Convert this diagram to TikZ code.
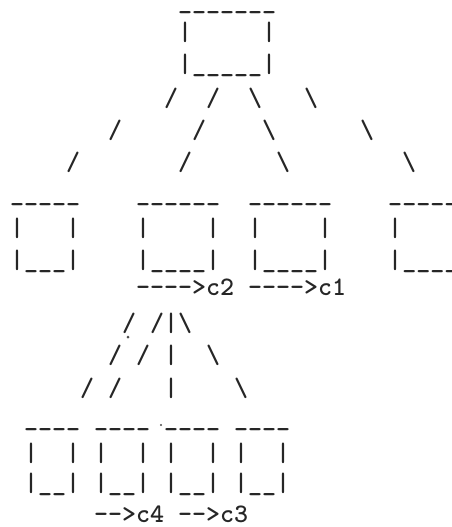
\documentclass[tikz,border=0pt]{standalone}
\newcommand{\artbs}{\textbackslash}
\begin{document}
\begin{tikzpicture}[x=1pt, y=-1pt,
  art/.style={font=\ttfamily\bfseries\fontsize{26.67}{32}\selectfont,
    text=black!85, anchor=base west, inner sep=0pt}]

  \useasboundingbox (0,0) rectangle (452,527);
  \clip (0,0) rectangle (452,527);

  % === ROOT BOX ===
  \node[art] (r0) at (178,10) {\_\_\_\_\_\_\_};
  \node[art] (r1) at (178,41) {|~~~~~|};
  \node[art] (r2) at (178,73) {|\_\_\_\_\_|};

  % Branches
  \node[art] (r3) at (164,106) {/~~/~~\artbs~~~\artbs};
  \node[art] (r4) at (108,138) {/~~~~~/~~~~\artbs~~~~~~\artbs};
  \node[art] (r5) at (66,170)  {/~~~~~~~/~~~~~~\artbs~~~~~~~~\artbs};

  % === SECOND LEVEL ===
  \node[art] (r6) at (10,201)
    {\_\_\_\_\_~~~~\_\_\_\_\_\_~~\_\_\_\_\_\_~~~~\_\_\_\_\_\_};
  \node[art] (r7) at (10,236) {|~~~|~~~~|~~~~|~~|~~~~|~~~~|};
  \node[art] (r8) at (10,268)
    {|\_\_\_|~~~~|\_\_\_\_|~~|\_\_\_\_|~~~~|\_\_\_\_\_};
  \node[art] (r9) at (136,295) {-{}-{}-{}-{}>c2~-{}-{}-{}-{}>c1};

  % Branches
  \node[art] (r10) at (122,331) {/~/|\artbs};
  \node[art] (r11) at (108,363) {/~/~|~~\artbs};
  \node[art] (r12) at (80,396)  {/~/~~~|~~~~\artbs};

  % === THIRD LEVEL ===
  \node[art] (r13) at (24,426) {\_\_\_\_~\_\_\_\_~\_\_\_\_~\_\_\_\_};
  \node[art] (r14) at (24,461) {|~~|~|~~|~|~~|~|~~|};
  \node[art] (r15) at (24,491) {|\_\_|~|\_\_|~|\_\_|~|\_\_|};
  \node[art] (r16) at (94,522) {-{}->c4~-{}->c3};

  % specks
  \fill[black!70] (128,337) circle (1.5);
  \fill[black!70] (161,425) circle (1.2);

\end{tikzpicture}
\end{document}
